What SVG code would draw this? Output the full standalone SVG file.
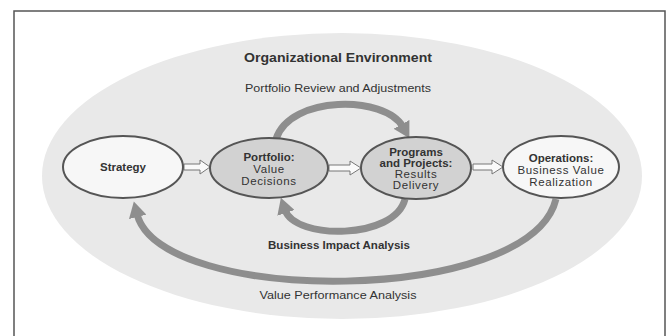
<svg xmlns="http://www.w3.org/2000/svg" width="670" height="336" viewBox="0 0 670 336">
<style>
.t{font-family:"Liberation Sans",Arial,sans-serif;fill:#333;text-anchor:middle}
.b{font-weight:bold}
.n{font-size:11.5px}
.r{letter-spacing:0.6px}
.node{stroke:#555;stroke-width:2}
.arc{fill:none;stroke:#8e8e8e;stroke-width:7}
.blk{fill:#fafafa;stroke:#777;stroke-width:1}
</style>
<defs>
<marker id="ah" markerUnits="userSpaceOnUse" markerWidth="18" markerHeight="18" refX="3" refY="9" orient="auto">
<path d="M0,0 L16,9 L0,18 z" fill="#8e8e8e"/>
</marker>
</defs>
<rect x="0" y="0" width="670" height="336" fill="#fff"/>
<rect x="14" y="11" width="651" height="335" fill="#fff" stroke="#555" stroke-width="1.5"/>
<g id="environment">
<ellipse cx="342" cy="176" rx="300" ry="143" fill="#e9e9e9"/>
<text class="t b" x="338" y="62" font-size="13" textLength="188" lengthAdjust="spacingAndGlyphs">Organizational Environment</text>
</g>
<g id="connectors">
<path class="arc" d="M 276 139 C 290 95, 385 95, 403 127" marker-end="url(#ah)"/>
<path class="arc" d="M 405 199 C 395 240, 295 240, 285 210" marker-end="url(#ah)"/>
<path class="arc" d="M 556 199 C 530 306, 160 306, 137 214" marker-end="url(#ah)"/>
<polygon class="blk" points="184,164 200,164 200,160 210,167 200,174 200,170 184,170"/>
<polygon class="blk" points="329,165 350,165 350,161 361,168 350,175 350,171 329,171"/>
<polygon class="blk" points="473,164 492,164 492,160 503,167 492,174 492,170 473,170"/>
<text class="t" x="338" y="92" font-size="11.5" textLength="186" lengthAdjust="spacingAndGlyphs">Portfolio Review and Adjustments</text>
<text class="t b" x="339" y="249" font-size="10.5" textLength="142" lengthAdjust="spacingAndGlyphs">Business Impact Analysis</text>
<text class="t" x="338" y="299" font-size="11.5" textLength="157" lengthAdjust="spacingAndGlyphs">Value Performance Analysis</text>
</g>
<g id="strategy">
<ellipse class="node" cx="123" cy="167" rx="60" ry="31" fill="#f7f7f7"/>
<text class="t b n" x="123" y="171">Strategy</text>
</g>
<g id="portfolio">
<ellipse class="node" cx="269" cy="168" rx="59" ry="30" fill="#d2d2d2"/>
<text class="t n" x="269" y="161"><tspan class="b">Portfolio:</tspan><tspan class="r" x="269" dy="12">Value</tspan><tspan class="r" x="269" dy="12">Decisions</tspan></text>
</g>
<g id="programs">
<ellipse class="node" cx="416" cy="168" rx="55" ry="31" fill="#d2d2d2"/>
<text class="t n" x="416" y="156"><tspan class="b">Programs</tspan><tspan class="b" x="416" dy="11">and Projects:</tspan><tspan class="r" x="416" dy="11">Results</tspan><tspan class="r" x="416" dy="11">Delivery</tspan></text>
</g>
<g id="operations">
<ellipse class="node" cx="561" cy="167" rx="58" ry="31" fill="#f7f7f7"/>
<text class="t n" x="561" y="162"><tspan class="b">Operations:</tspan><tspan class="r" x="561" dy="12">Business Value</tspan><tspan class="r" x="561" dy="12">Realization</tspan></text>
</g>
</svg>
